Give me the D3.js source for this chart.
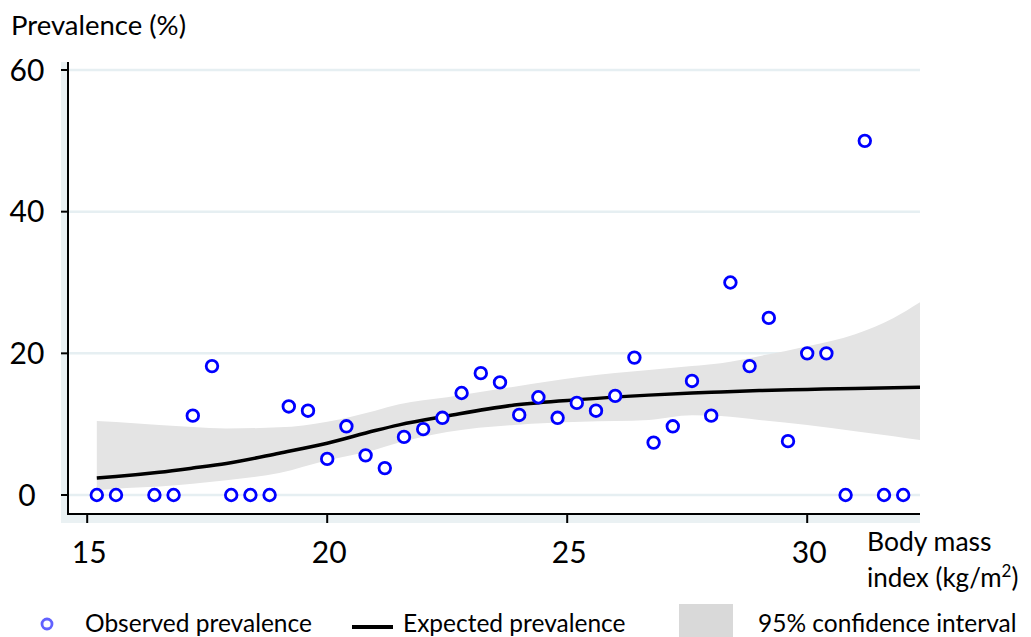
<!DOCTYPE html>
<html>
<head>
<meta charset="utf-8">
<script src="https://cdn.jsdelivr.net/npm/d3@7"></script>
<style>
  body { margin: 0; background: #fff; }
  text { font-family: Lato, "Open Sans", sans-serif; fill: #000; }
</style>
</head>
<body>
<svg width="1031" height="637"></svg>
<script>
// observed prevalence per BMI bin (bins of 0.4 kg/m2)
var bmi = [15.2, 15.6, 16.4, 16.8, 17.2, 17.6, 18.0, 18.4, 18.8, 19.2, 19.6, 20.0, 20.4, 20.8,
           21.2, 21.6, 22.0, 22.4, 22.8, 23.2, 23.6, 24.0, 24.4, 24.8, 25.2, 25.6, 26.0, 26.4,
           26.8, 27.2, 27.6, 28.0, 28.4, 28.8, 29.2, 29.6, 30.0, 30.4, 30.8, 31.2, 31.6, 32.0];
var observed = [0, 0, 0, 0, 11.2, 18.2, 0, 0, 0, 12.5, 11.9, 5.1, 9.7, 5.6,
                3.8, 8.2, 9.3, 10.9, 14.4, 17.2, 15.9, 11.3, 13.8, 10.9, 13.0, 11.9, 14.0, 19.4,
                7.4, 9.7, 16.1, 11.2, 30.0, 18.2, 25.0, 7.6, 20.0, 20.0, 0, 50.0, 0, 0];

// fitted curve and 95% CI
var fitX = [15.2, 15.6, 16.5, 17.2, 17.9, 19.0, 20.0, 21.0, 21.5, 22.5, 23.9, 25.3, 26.7, 27.6, 28.2, 29.0, 30.0, 31.0, 31.8, 32.35];
var expected = [2.4, 2.6, 3.2, 3.8, 4.45, 5.9, 7.3, 9.1, 9.9, 11.15, 12.7, 13.5, 14.1, 14.4, 14.55, 14.75, 14.9, 15.05, 15.15, 15.2];
var upper = [10.45, 10.3, 9.9, 9.6, 9.4, 9.55, 10.35, 11.9, 12.8, 13.8, 15.3, 16.7, 17.65, 18.2, 18.6, 19.6, 21.0, 22.7, 25.0, 27.2];
var lower = [0.7, 0.9, 1.2, 1.6, 2.1, 3.1, 4.9, 6.4, 7.4, 8.9, 9.9, 10.35, 10.6, 11.25, 11.15, 10.6, 9.9, 9.0, 8.3, 7.75];

var xTicks = [15, 20, 25, 30];
var yTicks = [0, 20, 40, 60];

function main() {
    var svg = d3.select("svg");

    var x = d3.scaleLinear().domain([14.6, 32.35]).range([68, 920]);
    var y = d3.scaleLinear().domain([0, 60]).range([495, 70]);

    var plotTop = 62, plotBottom = 514;

    // light backdrop strip on the left and below
    svg.append("rect")
        .attr("x", x.range()[0] - 7).attr("y", plotTop)
        .attr("width", x.range()[1] - x.range()[0] + 7)
        .attr("height", plotBottom - plotTop + 9)
        .attr("fill", "#eaf1f3");
    svg.append("rect")
        .attr("x", x.range()[0]).attr("y", plotTop)
        .attr("width", x.range()[1] - x.range()[0])
        .attr("height", plotBottom - plotTop)
        .attr("fill", "#fff");

    // gridlines
    svg.append("g").selectAll("line")
        .data(yTicks).enter().append("line")
        .attr("x1", x.range()[0]).attr("x2", x.range()[1])
        .attr("y1", function(d) { return y(d); })
        .attr("y2", function(d) { return y(d); })
        .attr("stroke", "#e6eff2")
        .attr("stroke-width", 2.5);

    var fit = fitX.map(function(v, i) {
        return { x: v, e: expected[i], lo: lower[i], hi: upper[i] };
    });

    var band = d3.area()
        .x(function(d) { return x(d.x); })
        .y0(function(d) { return y(d.lo); })
        .y1(function(d) { return y(d.hi); })
        .curve(d3.curveMonotoneX);

    svg.append("path")
        .datum(fit)
        .attr("d", band)
        .attr("fill", "#e4e4e4");

    var line = d3.line()
        .x(function(d) { return x(d.x); })
        .y(function(d) { return y(d.e); })
        .curve(d3.curveMonotoneX);

    svg.append("path")
        .datum(fit)
        .attr("d", line)
        .attr("fill", "none")
        .attr("stroke", "#000")
        .attr("stroke-width", 3.5);

    // observed points
    svg.append("g").selectAll("circle")
        .data(bmi).enter().append("circle")
        .attr("cx", function(d) { return x(d); })
        .attr("cy", function(d, i) { return y(observed[i]); })
        .attr("r", 5.8)
        .attr("fill", "#fff")
        .attr("stroke", "#0000ff")
        .attr("stroke-width", 2.8);

    // axes
    svg.append("line")
        .attr("x1", x.range()[0]).attr("x2", x.range()[0])
        .attr("y1", plotTop).attr("y2", plotBottom + 1)
        .attr("stroke", "#000").attr("stroke-width", 2);
    svg.append("line")
        .attr("x1", x.range()[0]).attr("x2", x.range()[1])
        .attr("y1", plotBottom).attr("y2", plotBottom)
        .attr("stroke", "#000").attr("stroke-width", 2);

    var yt = svg.append("g").selectAll("g")
        .data(yTicks).enter().append("g");
    yt.append("line")
        .attr("x1", x.range()[0] - 7).attr("x2", x.range()[0])
        .attr("y1", function(d) { return y(d); })
        .attr("y2", function(d) { return y(d); })
        .attr("stroke", "#000").attr("stroke-width", 2);
    yt.append("text")
        .attr("x", 27)
        .attr("y", function(d) { return y(d); })
        .attr("dy", "0.36em")
        .attr("text-anchor", "middle")
        .style("font-size", "30px")
        .text(function(d) { return d; });

    var xt = svg.append("g").selectAll("g")
        .data(xTicks).enter().append("g");
    xt.append("line")
        .attr("x1", function(d) { return x(d); })
        .attr("x2", function(d) { return x(d); })
        .attr("y1", plotBottom).attr("y2", plotBottom + 9)
        .attr("stroke", "#000").attr("stroke-width", 2);
    xt.append("text")
        .attr("x", function(d) { return x(d) + 2; })
        .attr("y", 563)
        .attr("text-anchor", "middle")
        .style("font-size", "30px")
        .text(function(d) { return d; });

    // axis titles
    svg.append("text")
        .attr("x", 11).attr("y", 35)
        .style("font-size", "27.5px")
        .text("Prevalence (%)");

    svg.append("text")
        .attr("x", 867).attr("y", 551)
        .style("font-size", "26.5px")
        .text("Body mass");
    var xl = svg.append("text")
        .attr("x", 867).attr("y", 587)
        .style("font-size", "26px");
    xl.append("tspan").text("index (kg/m");
    xl.append("tspan").attr("dy", -10).style("font-size", "17px").text("2");
    xl.append("tspan").attr("dy", 10).text(")");

    // legend
    var leg = svg.append("g");
    leg.append("circle")
        .attr("cx", 47).attr("cy", 624).attr("r", 5)
        .attr("fill", "#fff")
        .attr("stroke", "#6262ff")
        .attr("stroke-width", 2.8);
    leg.append("text")
        .attr("x", 85).attr("y", 632)
        .style("font-size", "24.5px")
        .text("Observed prevalence");

    leg.append("line")
        .attr("x1", 352).attr("x2", 393)
        .attr("y1", 627).attr("y2", 627)
        .attr("stroke", "#000").attr("stroke-width", 4);
    leg.append("text")
        .attr("x", 403).attr("y", 632)
        .style("font-size", "24.5px")
        .text("Expected prevalence");

    leg.append("rect")
        .attr("x", 679).attr("y", 604)
        .attr("width", 54).attr("height", 40)
        .attr("fill", "#d9d9d9");
    leg.append("text")
        .attr("x", 758).attr("y", 632)
        .style("font-size", "24.5px")
        .text("95% confidence interval");
}

main();
</script>
</body>
</html>
